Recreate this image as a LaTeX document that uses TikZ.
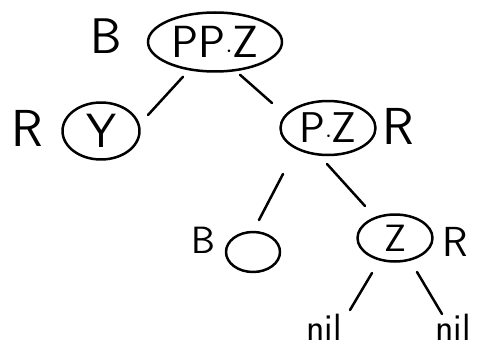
\documentclass[tikz,border=0pt]{standalone}
\usetikzlibrary{shapes.geometric}
\begin{document}
\begin{tikzpicture}[x=1pt,y=-1pt,
  hand/.style={line width=2.5pt,line cap=round,line join=round},
  nd/.style={ellipse,draw,hand,inner sep=0pt},
  lbl/.style={inner sep=0pt},
  fs/.style={font=\sffamily\fontsize{#1}{#1}\selectfont}]
\useasboundingbox (0,0) rectangle (490,353);
\node[nd,fs=45,minimum width=134,minimum height=59] (root) at (215,42) {PP$\cdot$Z};
\node[lbl,fs=50] (lroot) at (106,36) {B};
\node[nd,fs=48,minimum width=77,minimum height=57] (y) at (101,131) {Y};
\node[lbl,fs=52] (ly) at (27,128) {R};
\node[nd,fs=43,minimum width=95,minimum height=54] (pz) at (328,128) {P$\cdot$Z};
\node[lbl,fs=52] (lpz) at (398,126) {R};
\node[nd,minimum width=54,minimum height=40] (e) at (253,252) {};
\node[lbl,fs=38] (le) at (203,240) {B};
\node[nd,fs=38,minimum width=75,minimum height=47] (z) at (395,238) {Z};
\node[lbl,fs=42] (lz) at (455,242) {R};
\node[lbl,fs=38] (n1) at (324,327) {nil};
\node[lbl,fs=38] (n2) at (453,327) {nil};
\draw[hand] ([shift={(-32,4)}]root.south) -- ([shift={(47,-16)}]y.center);
\draw[hand] ([shift={(25,2)}]root.south) -- ([shift={(-56,-25)}]pz.center);
\draw[hand] ([shift={(-45,46)}]pz.center) -- ([shift={(6,-32)}]e.center);
\draw[hand] ([shift={(-1,36)}]pz.center) -- ([shift={(-30,-32)}]z.center);
\draw[hand] ([shift={(-23,35)}]z.center) -- ([shift={(26,-17)}]n1.center);
\draw[hand] ([shift={(22,34)}]z.center) -- ([shift={(-11,-13)}]n2.center);
\end{tikzpicture}
\end{document}
